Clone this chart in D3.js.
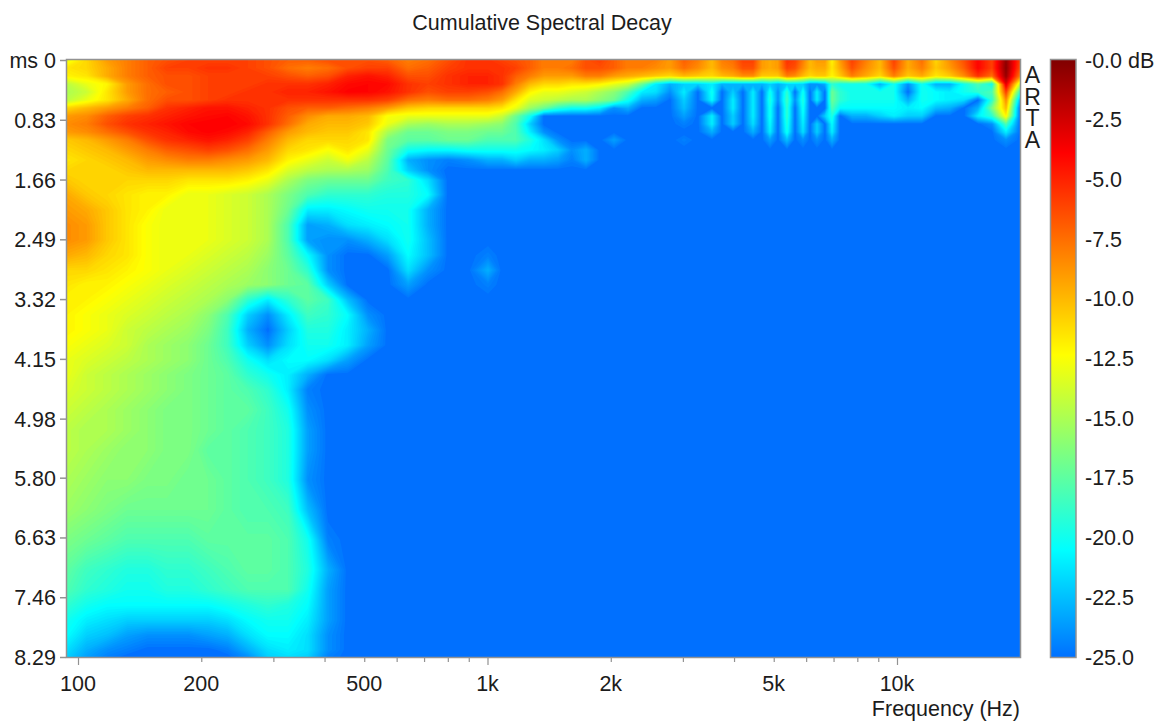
<!DOCTYPE html>
<html>
<head>
<meta charset="utf-8">
<script src="https://cdn.jsdelivr.net/npm/d3@7"></script>
<style>
html,body{margin:0;padding:0;background:#fff}
svg{display:block}
text{font-family:"Liberation Sans",Arial,sans-serif;fill:#1c1c1c}
</style>
</head>
<body>
<svg id="chart" width="1168" height="722"></svg>
<script>
const chartTitle = "Cumulative Spectral Decay";
const xAxisLabel = "Frequency (Hz)";
const watermark = "ARTA";
const floorDb = -25;

const freqsHz = [94,105,118,132,148,165,186,208,232,260,291,326,364,408,456,511,571,640,716,801,896,1003,
 1085,1174,1270,1374,1487,1608,1740,1882,2037,2204,2384,2579,2790,3020,3266,
 3534,3738,3977,4206,4451,4681,4897,5122,5388,5635,5895,6132,6376,6671,6939,7259,
 7765,8401,9090,9833,10640,11510,12450,13470,14570,15770,17060,18460,19970];

const timesMs = [0,.111,.222,.333,.444,.555,.667,.778,.889,1,1.11,1.25,1.39,1.53,1.67,1.87,2.08,2.29,2.5,2.71,2.92,3.12,3.33,3.54,3.75,3.96,4.17,4.37,4.58,4.86,5.14,5.42,5.83,6.25,6.66,7.08,7.36,7.57,7.78,7.99,8.19,8.29];

// one row per time; rows stop where the remaining columns sit at the -25 dB floor
const decayDb = [
[-13,-11,-9,-8,-7,-6.5,-6,-6,-6,-6,-6.5,-7,-7,-6.5,-6.5,-6.5,-7,-8,-7.5,-6.5,-5.5,-5.5,
 -6,-6.5,-7,-8,-8,-8,-6.5,-6,-7,-8,-8,-8,-9,-7,-8,
 -10,-8,-7.5,-6,-6,-9,-9.5,-9,-5.5,-6,-8,-10,-9,-9,-12,-9,
 -6,-8,-10,-6,-9.5,-7.5,-11,-8.5,-6.5,-4,-6,-0.5,-6],
[-11.5,-11,-9.5,-8,-7,-6,-6,-5.5,-5.5,-6,-6.5,-7.5,-8,-7.5,-6.5,-6,-6,-7.5,-7,-6,-5.5,-5.5,
 -5.5,-6,-7,-8,-8,-7.5,-6.5,-6.5,-7,-8,-8,-8.5,-9,-7.5,-8.5,
 -10,-8.5,-8,-6.5,-6.5,-9,-9.5,-9,-6,-6.5,-8.5,-10,-9.5,-9.5,-11.5,-9.5,
 -6.5,-8.5,-10,-6.5,-9.5,-8,-10.5,-9,-7,-4,-6,-0.3,-6.5],
[-12,-11.5,-9.5,-8,-7,-6.5,-6.5,-6,-6,-6,-6,-6.5,-7,-6.5,-5,-4.5,-5,-6.5,-6.5,-5.5,-5,-5,
 -5.5,-7,-8,-9,-9,-9,-8,-8,-9,-9.5,-10,-10.5,-11,-10,-10.5,
 -11,-10,-9.5,-8.5,-8.5,-10.5,-10.5,-10.5,-8,-8.5,-10,-11,-10.5,-10.5,-12,-10.5,
 -8,-9.5,-11,-8,-10.5,-9.5,-11.5,-10.5,-8.5,-5.5,-7.5,-0.7,-8],
[-14.5,-13,-12,-9,-7.5,-6.5,-6.5,-6,-6,-6,-5.5,-5.5,-5.5,-5,-4.2,-4,-4.2,-5.5,-6,-5.5,-5,-5,
 -5.5,-8,-10,-11,-11,-11.5,-11.5,-12,-13,-14,-17,-21,-23,-22,-22,
 -21,-23,-23,-23,-23,-23,-22,-23,-22,-22,-22,-24,-24,-23,-19,-20,
 -20,-20,-23,-20,-24,-20,-23,-23,-20,-18,-20,-3,-14],
[-15,-14,-11.5,-9,-7.5,-7,-6.5,-6,-6,-5.5,-5.5,-5,-5,-4.5,-3.9,-4,-4.5,-5.5,-6.5,-6,-6,-6.5,
 -7.5,-9.5,-12,-13,-13,-13.5,-14,-15,-16,-18,-21,-21.5,-24,-21,-25,
 -20,-25,-22,-25,-21,-25,-20,-24,-19,-25,-20,-25,-21,-25,-17,-19,
 -20,-20,-20,-20,-25,-20,-20.5,-21,-20,-19,-18,-6,-19],
[-14.5,-13,-11.5,-9.5,-7.5,-6.5,-6.5,-6,-5.5,-5.5,-5.5,-5.5,-5.5,-5.5,-5.5,-5.5,-6,-7.5,-8,-7.5,-7.5,-8,
 -9,-11.5,-13.5,-14,-14.5,-15,-15,-16,-17,-20,-23,-23.5,-25,-22,-25,
 -20.5,-25,-21,-25,-21,-25,-19.5,-24,-18.5,-24,-19.5,-25,-21,-25,-17,-19,
 -20,-20,-20,-20,-23,-20,-20.5,-21,-21.5,-25,-19,-8.5,-23],
[-11,-10,-9,-8,-7,-5.5,-5,-4.5,-4.5,-5,-5.5,-6.5,-7,-7,-7.5,-8,-9,-10.5,-11,-11,-11,-11,
 -11.5,-13,-15.5,-17,-19,-20,-20,-21,-24,-23,-25,-25,-25,-22.5,-25,
 -25,-25,-21,-25,-21,-25,-20,-25,-19,-25,-20,-25,-25,-25,-18,-20.5,
 -20.5,-20.5,-20.5,-20.5,-21,-20.5,-22.5,-23,-25,-23,-16.5,-10,-25],
[-9,-8.5,-7,-6,-5.5,-5,-4.5,-4.2,-4,-4.5,-5.5,-7,-8.5,-9.5,-9.5,-10,-12.5,-13,-13,-13,-13,-13,
 -14,-17,-20,-25,-25,-25,-25,-25,-25,-25,-25,-25,-25,-23.5,-25,
 -21,-25,-22,-25,-21,-25,-20,-25,-19,-25,-20.5,-25,-25,-22,-19.5,-25,
 -23,-23,-22,-21,-22,-22,-25,-25,-25,-21,-19,-12,-25],
[-8.5,-8,-6.5,-5.5,-5,-4.5,-4,-3.8,-3.8,-4.2,-5.5,-7.5,-9.5,-10,-10,-10.5,-13,-15,-15.5,-15,-15,-15.5,
 -16,-18,-22,-25,-25,-25,-25,-25,-25,-25,-25,-25,-25,-24.5,-25,
 -21,-25,-22,-25,-21.5,-25,-20.5,-25,-19.5,-25,-21,-25,-22,-25,-20.5,-25,
 -25,-25,-25,-25,-25,-25,-25,-25,-25,-25,-24,-18,-25],
[-9,-8.5,-7.5,-6.5,-5.5,-5,-4.2,-3.9,-4.2,-5,-7,-9,-10,-10.5,-10.5,-11.5,-15,-17,-17,-16.5,-16.5,-17,
 -17,-18,-21,-24,-25,-25,-25,-25,-25,-25,-25,-25,-25,-25,-25,
 -23,-25,-25,-25,-23,-25,-21,-25,-20,-25,-21.5,-25,-22,-25,-21,-25,
 -25,-25,-25,-25,-25,-25,-25,-25,-25,-25,-25,-21,-25],
[-10.5,-10,-9,-8,-6.5,-5.5,-5,-4.5,-5,-6,-8,-10,-11,-11,-11,-11.5,-16.5,-17.5,-17.5,-17,-17,-18,
 -18,-18,-19.5,-21.5,-24,-25,-25,-25,-23.5,-25,-25,-25,-25,-24.5,-25,
 -25,-25,-25,-25,-25,-25,-23.5,-25,-22.5,-25,-24,-25,-24,-25,-23,-25,
 -25,-25,-25,-25,-25,-25,-25,-25,-25,-25,-25,-24,-25],
[-11,-10.5,-10,-9,-8,-7,-6.5,-6,-6.5,-7.5,-9,-11,-11.5,-12.5,-11.5,-13,-17,-20,-20.5,-20.5,-20,-20,
 -20,-20,-20.5,-21,-22,-24,-23],
[-11.5,-11,-10.5,-10,-9,-8.5,-8,-8,-8.5,-9,-10,-12,-13,-14,-12.8,-14.5,-17.5,-23,-24,-24.5,-24,-23,
 -23,-22,-23,-23,-23.5,-24.5,-23],
[-11,-11,-11,-10.5,-10,-10,-10,-10,-10,-10.5,-11.5,-13.5,-14.5,-15,-15,-15.5,-18,-22,-24],
[-10.5,-11,-11,-11,-11,-11,-11.5,-11.5,-11.5,-12,-13,-15,-16.5,-17,-17,-17,-18.5,-19,-21.5],
[-9.5,-10.5,-11,-11.5,-12,-12,-13,-13,-13.5,-14,-15,-16.5,-18,-19,-19,-19,-19.5,-19.5,-20.5],
[-9,-9.5,-10.5,-11.5,-12,-13,-13,-13,-13.5,-14,-15,-17,-21,-21,-20.5,-20,-20,-20,-23],
[-8.5,-9,-10.5,-11.5,-12.5,-13,-13,-13,-13.5,-14,-15,-18,-23.5,-23,-21.5,-21,-20.5,-20,-23],
[-8.5,-9,-10.5,-11.5,-12.5,-13,-13,-13,-13.5,-14,-15,-18,-23.5,-24,-24,-23,-21.5,-20,-22.5],
[-9.5,-10,-11,-11.5,-12.5,-13,-13,-13.5,-14,-14.5,-15.5,-17.5,-20.5,-24,-25,-25,-23.5,-20.5,-22.5,-25,-25,-24.5],
[-11,-11,-11.5,-12,-12.5,-13,-13.5,-14,-14.5,-15,-16,-17,-19,-24,-25,-25,-25,-21.5,-24,-25,-25,-23],
[-11.5,-12,-12,-12.5,-13,-13.5,-14,-14.5,-15,-15.5,-16,-17,-17.5,-22,-25,-25,-25,-23.5,-25,-25,-25,-24.5],
[-12,-12,-12.5,-13,-13.5,-14,-14.5,-15,-16,-19,-21,-19,-17.5,-18.5,-22.5],
[-12,-12.5,-13,-13.5,-14,-14.5,-15,-16,-18,-22,-24,-21,-18.5,-19,-20.5,-24],
[-12,-12.5,-13,-14,-14.5,-15,-15.5,-16.5,-18.5,-23,-25,-22,-19.5,-19.5,-21,-23],
[-12.5,-13,-13.5,-14,-15,-15.5,-16,-17,-18.5,-22,-24,-21.5,-20,-20,-21,-23.5],
[-13,-13.5,-14,-14.5,-15,-15.5,-16,-17,-18,-20,-21.5,-20.5,-20.5,-21.5,-23.5],
[-13,-14,-14.5,-15,-15.5,-16,-16.5,-17,-17.5,-19,-20,-21,-23],
[-13.5,-14,-14.5,-15,-15.5,-16,-16.5,-17,-17.5,-18,-19,-21,-24.5],
[-14,-14.5,-15,-15.5,-16,-16.5,-16.5,-17,-17.5,-17.5,-18.5,-20,-24],
[-14.5,-15,-15,-15.5,-16,-16.5,-16.5,-17,-17.5,-18,-18.5,-19.5,-23.5],
[-14.5,-15,-15.5,-16,-16,-16.5,-16.5,-17.5,-17.5,-18,-18.5,-19.5,-23.5],
[-15,-15.5,-16,-16,-16.5,-16.5,-17,-17,-17.5,-18,-18.5,-19.5,-24],
[-15.5,-16,-16.5,-17,-17,-17,-17,-17,-17.5,-18,-18,-18.5,-22.5],
[-16.5,-17,-17.5,-18,-18,-18,-18,-17.5,-17.5,-17.5,-17.5,-18,-20,-24.5],
[-17.5,-18.5,-19,-19.5,-19.5,-19,-19,-18.5,-18,-17.5,-17.5,-18,-19.5,-23],
[-18,-19,-19.5,-20,-20,-19.5,-19.5,-19,-18.5,-18,-18,-18,-20,-23.5],
[-19,-20,-20.5,-20.5,-20.5,-20.5,-20.5,-20.5,-20,-19.5,-19,-19.5,-20.5,-23.5],
[-20,-21,-21.5,-22,-22,-22,-22,-22,-21.5,-20.5,-20,-20,-21,-23.5],
[-20.5,-22,-22.5,-23.5,-24,-24,-24,-23.5,-23,-21.5,-20.5,-20.5,-21.5,-24],
[-21.5,-23,-24,-24.5,-25,-25,-25,-25,-24.5,-23,-21.5,-21,-21.5,-24],
[-22,-23.5,-24.5,-25,-25,-25,-25,-25,-25,-24,-22,-21.5,-22,-24.5]
];

const timeTicks = [0,0.83,1.66,2.49,3.32,4.15,4.98,5.80,6.63,7.46,8.29];
const timeTickLabels = ["ms 0","0.83","1.66","2.49","3.32","4.15","4.98","5.80","6.63","7.46","8.29"];
const freqTicksMajor = [100,1000,10000];
const freqTicksMinor = [200,300,400,500,600,700,800,900,2000,3000,4000,5000,6000,7000,8000,9000];
const freqTickLabels = new Map([[100,"100"],[200,"200"],[500,"500"],[1000,"1k"],[2000,"2k"],[5000,"5k"],[10000,"10k"]]);
const dbTicks = [0,-2.5,-5,-7.5,-10,-12.5,-15,-17.5,-20,-22.5,-25];
const dbTickLabels = ["-0.0 dB","-2.5","-5.0","-7.5","-10.0","-12.5","-15.0","-17.5","-20.0","-22.5","-25.0"];
const jetStops = [0,-3.9,-8.1,-12.35,-16.4,-20.5,-25];
const jetColors = ["#800000","#ff0000","#ff8000","#ffff00","#7fff7f","#00ffff","#0070ff"];

const plot = {left:67,right:1020,top:60,bottom:657};
const svg = d3.select("#chart");

const x = d3.scaleLog().domain([94,19970]).range([plot.left,plot.right]);
const y = d3.scaleLinear().domain([0,8.29]).range([plot.top,plot.bottom]);
const color = d3.scaleLinear().domain(jetStops).range(jetColors).interpolate(d3.interpolateRgb).clamp(true);
const dbY = d3.scaleLinear().domain([0,-25]).range([plot.top,plot.bottom]);

const nx = freqsHz.length, ny = timesMs.length;
const grid = new Float64Array(nx*ny).fill(floorDb);
decayDb.forEach((row,j)=>row.forEach((v,i)=>{grid[j*nx+i]=v;}));

// contour coordinates place sample i at i+0.5: map them through the frequency and time scales
const colPos = d3.scaleLinear().domain(freqsHz.map((f,i)=>i+.5)).range(freqsHz.map(f=>x(f)));
const rowPos = d3.scaleLinear().domain(timesMs.map((t,i)=>i+.5)).range(timesMs.map(t=>y(t)));
const path = d3.geoPath(d3.geoTransform({point(a,b){this.stream.point(colPos(a),rowPos(b));}}));

const defs = svg.append("defs");
defs.append("clipPath").attr("id","plotClip").append("rect")
  .attr("x",plot.left).attr("y",plot.top).attr("width",plot.right-plot.left).attr("height",plot.bottom-plot.top);

const heat = svg.append("g").attr("clip-path","url(#plotClip)");
heat.append("rect").attr("x",plot.left).attr("y",plot.top)
  .attr("width",plot.right-plot.left).attr("height",plot.bottom-plot.top).attr("fill",color(floorDb));

const step = 0.2;
const thresholds = d3.range(floorDb+step, 0, step);
const contours = d3.contours().size([nx,ny]).smooth(true).thresholds(thresholds)(Array.from(grid));
heat.selectAll("path").data(contours).join("path")
  .attr("d",path)
  .attr("fill",d=>color(d.value+step/2));

// frame
const frameColor = "#929292";
const frame = svg.append("g").attr("fill","none").attr("stroke",frameColor).attr("stroke-width",1.5);
frame.append("rect").attr("x",plot.left-.5).attr("y",plot.top-.5)
  .attr("width",plot.right-plot.left+1).attr("height",plot.bottom-plot.top+1);

const fontPx = "21.5px";

// time axis
const yAxis = svg.append("g").attr("transform",`translate(${plot.left-1},0)`)
  .call(d3.axisLeft(y).tickValues(timeTicks).tickSize(6).tickPadding(4)
    .tickFormat((d,i)=>timeTickLabels[i]));
yAxis.select(".domain").remove();
yAxis.selectAll("line").attr("stroke",frameColor).attr("stroke-width",1.5);
yAxis.selectAll("text").style("font-size",fontPx).attr("dy","0.35em");

// frequency axis
const xMajor = svg.append("g").attr("transform",`translate(0,${plot.bottom+1})`)
  .call(d3.axisBottom(x).tickValues(freqTicksMajor).tickSize(7).tickFormat(()=>""));
const xMinor = svg.append("g").attr("transform",`translate(0,${plot.bottom+1})`)
  .call(d3.axisBottom(x).tickValues(freqTicksMinor).tickSize(4).tickFormat(()=>""));
[xMajor,xMinor].forEach(g=>{g.select(".domain").remove();g.selectAll("line").attr("stroke",frameColor).attr("stroke-width",1.2);});
svg.append("g").selectAll("text").data([...freqTickLabels]).join("text")
  .attr("x",d=>x(d[0])).attr("y",691).attr("text-anchor","middle").style("font-size",fontPx).text(d=>d[1]);

svg.append("text").attr("x",plot.right).attr("y",716).attr("text-anchor","end").style("font-size",fontPx).text(xAxisLabel);
svg.append("text").attr("x",542).attr("y",30).attr("text-anchor","middle").style("font-size",fontPx).text(chartTitle);

// ARTA mark: one upright vertical string
svg.append("text").attr("x",1032.5).attr("y",62)
  .style("writing-mode","vertical-rl").style("text-orientation","upright")
  .style("letter-spacing","-4.4px").style("font-size","23px").text(watermark);

// colour bar
const grad = defs.append("linearGradient").attr("id","barGrad").attr("x1",0).attr("x2",0).attr("y1",0).attr("y2",1);
grad.selectAll("stop").data(jetStops).join("stop")
  .attr("offset",d=>(dbY(d)-plot.top)/(plot.bottom-plot.top)).attr("stop-color",d=>color(d));
svg.append("rect").attr("x",1050.5).attr("y",plot.top-.5).attr("width",25.5).attr("height",plot.bottom-plot.top+1)
  .attr("fill","url(#barGrad)").attr("stroke",frameColor).attr("stroke-width",1.5);
svg.append("g").selectAll("text").data(dbTicks).join("text")
  .attr("x",1085).attr("y",d=>dbY(d)).attr("dy","0.35em").style("font-size",fontPx).text((d,i)=>dbTickLabels[i]);
</script>
</body>
</html>
